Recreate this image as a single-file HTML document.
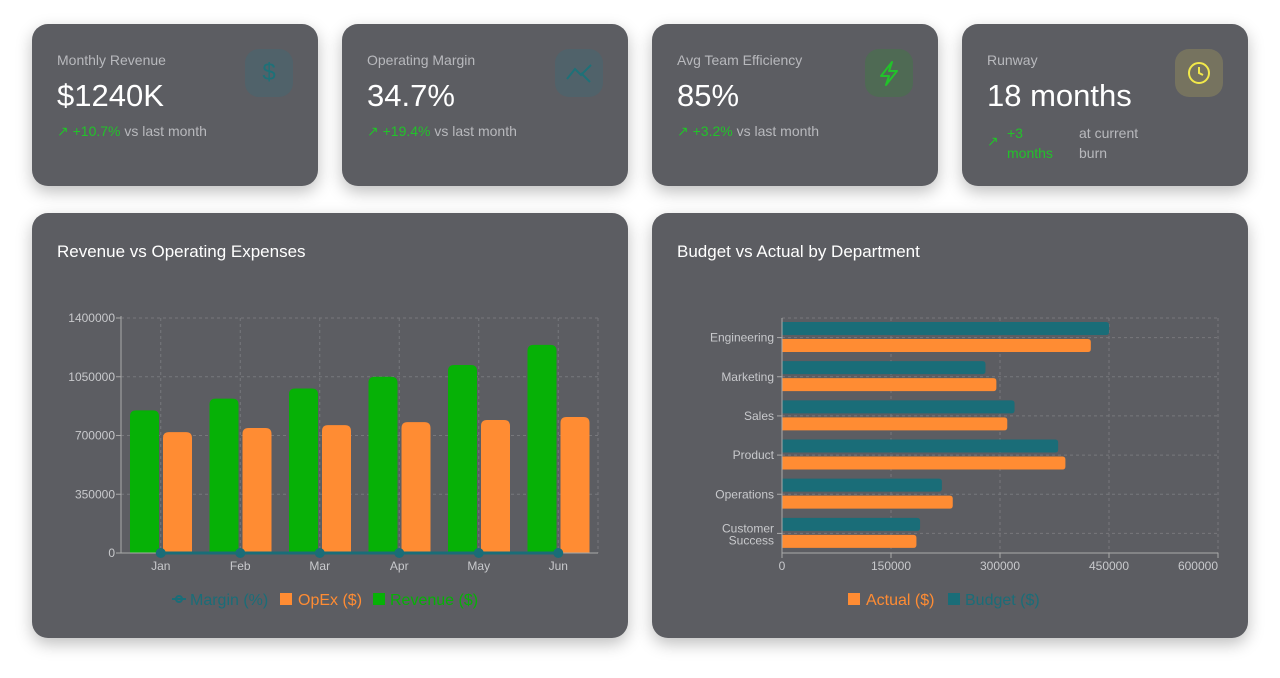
<!DOCTYPE html>
<html><head><meta charset="utf-8">
<style>
body{margin:0;width:1280px;height:678px;background:#fff;font-family:"Liberation Sans",sans-serif;position:relative;overflow:hidden}
.card{position:absolute;background:#5c5d62;border-radius:16px;box-shadow:0 6px 16px rgba(0,0,0,0.25)}
.kpi{top:24px;width:286px;height:162px}
.lbl{position:absolute;left:25px;top:28px;font-size:14px;color:#b8b9bd}
.val{position:absolute;left:25px;top:54px;font-size:31px;color:#fff}
.chg{position:absolute;left:25px;top:99px;font-size:14px;color:#b8b9bd}
.chg .g{color:#22c22a}
.ico{position:absolute;left:213px;top:25px;width:48px;height:48px;border-radius:14px}
.ttl{position:absolute;left:25px;top:29px;font-size:17px;color:#fff}
svg text{font-family:"Liberation Sans",sans-serif}
</style></head><body>
<div class="card kpi" style="left:32px">
 <div class="lbl">Monthly Revenue</div>
 <div class="val">$1240K</div>
 <div class="chg"><span class="g">↗ +10.7%</span> vs last month</div>
 <div class="ico" style="background:#50626a;color:#1e7178;font-size:24px;text-align:center;line-height:48px">$</div>
</div>
<div class="card kpi" style="left:342px">
 <div class="lbl">Operating Margin</div>
 <div class="val">34.7%</div>
 <div class="chg"><span class="g">↗ +19.4%</span> vs last month</div>
 <div class="ico" style="background:#50626a"><svg width="48" height="48"><polyline points="12,30 20,20 26,26 36,16" fill="none" stroke="#1e7178" stroke-width="2"/><polyline points="26,24 35,33" fill="none" stroke="#1e7178" stroke-width="2"/></svg></div>
</div>
<div class="card kpi" style="left:652px">
 <div class="lbl">Avg Team Efficiency</div>
 <div class="val">85%</div>
 <div class="chg"><span class="g">↗ +3.2%</span> vs last month</div>
 <div class="ico" style="background:#4f6a54"><svg width="48" height="48"><polygon points="27,13 16,27 24,27 21,36 32,22 24,22" fill="none" stroke="#22c22a" stroke-width="2" stroke-linejoin="round"/></svg></div>
</div>
<div class="card kpi" style="left:962px">
 <div class="lbl">Runway</div>
 <div class="val">18 months</div>
 <div class="chg" style="width:180px"><span class="g" style="position:absolute;left:0;top:10px">↗</span><span class="g" style="position:absolute;left:20px;top:0;line-height:20px">+3<br>months</span><span style="position:absolute;left:92px;top:0;line-height:20px;width:90px">at current<br>burn</span></div>
 <div class="ico" style="background:#76735f"><svg width="48" height="48"><circle cx="24" cy="24" r="10" fill="none" stroke="#f2e94a" stroke-width="2"/><polyline points="24,18 24,24 28,26" fill="none" stroke="#f2e94a" stroke-width="2"/></svg></div>
</div>

<div class="card" style="left:32px;top:213px;width:596px;height:425px">
 <div class="ttl">Revenue vs Operating Expenses</div>
 <svg id="c1" width="596" height="425" style="position:absolute;left:0;top:0"></svg>
</div>
<div class="card" style="left:652px;top:213px;width:596px;height:425px">
 <div class="ttl">Budget vs Actual by Department</div>
 <svg id="c2" width="596" height="425" style="position:absolute;left:0;top:0"></svg>
</div>
<script>
const months=["Jan","Feb","Mar","Apr","May","Jun"];
const revenue=[850000,920000,980000,1050000,1120000,1240000];
const opex=[720000,745000,762000,780000,792000,810000];
const margin=[15.0,19.4,22.0,26.0,30.0,34.7];
const yTicks=[0,350000,700000,1050000,1400000];
const depts=["Engineering","Marketing","Sales","Product","Operations","Customer Success"];
const budget=[450000,280000,320000,380000,220000,190000];
const actual=[425000,295000,310000,390000,235000,185000];
const xTicks=[0,150000,300000,450000,600000];
const NS="http://www.w3.org/2000/svg";
function mk(svg,tag,at,txt){const e=document.createElementNS(NS,tag);for(const k in at)e.setAttribute(k,at[k]);if(txt!==undefined)e.textContent=txt;svg.appendChild(e);return e;}
function topRound(x,y,w,h,r){r=Math.min(r,h);return `M${x},${y+h}V${y+r}Q${x},${y} ${x+r},${y}H${x+w-r}Q${x+w},${y} ${x+w},${y+r}V${y+h}Z`;}
function rightRound(x,y,w,h,r){r=Math.min(r,w);return `M${x},${y}H${x+w-r}Q${x+w},${y} ${x+w},${y+r}V${y+h-r}Q${x+w},${y+h} ${x+w-r},${y+h}H${x}Z`;}
// chart 1
(function(){
const s=document.getElementById('c1');
const L=89,R=566,T=105,B=340;
const y=v=>B-(v/1400000)*(B-T);
const band=(R-L)/months.length;
const x=i=>L+band*i;
yTicks.forEach(t=>{
 if(t>0){const g=mk(s,'line',{x1:L,x2:R,y1:y(t),y2:y(t),stroke:'#77787c','stroke-dasharray':'3 3'});}
 const lb=mk(s,'text',{x:L-6,y:y(t)+4,'text-anchor':'end','font-size':12,fill:'#c8c9cc'},t);
 
 mk(s,'line',{x1:L-5,x2:L,y1:y(t),y2:y(t),stroke:'#aaa'});
});
months.forEach((m,i)=>{
 const g=mk(s,'line',{x1:x(i)+band/2,x2:x(i)+band/2,y1:T,y2:B,stroke:'#77787c','stroke-dasharray':'3 3'});
 
});
mk(s,'line',{x1:R,x2:R,y1:T,y2:B,stroke:'#77787c','stroke-dasharray':'3 3'});
mk(s,'line',{x1:L,x2:R,y1:T,y2:T,stroke:'#77787c','stroke-dasharray':'3 3'});
months.forEach((m,i)=>{
 const bw=29,x0=x(i)+9;
 const r=mk(s,'path',{d:topRound(x0,y(revenue[i]),bw,B-y(revenue[i]),6),fill:'#06b106'});
 
 const o=mk(s,'path',{d:topRound(x0+bw+4,y(opex[i]),bw,B-y(opex[i]),6),fill:'#ff8c33'});
 
 const t=mk(s,'text',{x:x(i)+band/2,y:B+17,'text-anchor':'middle','font-size':12,fill:'#c8c9cc'},m);
 
});
mk(s,'line',{x1:L,x2:L,y1:T-2,y2:B,stroke:'#aaa'});
mk(s,'line',{x1:L,x2:R,y1:B,y2:B,stroke:'#aaa'});
const pts=margin.map((v,i)=>[x(i)+band/2,y(v)]);
const ln=mk(s,'polyline',{points:pts.map(p=>p.join(',')).join(' '),fill:'none',stroke:'#1a6d78','stroke-width':3});

pts.forEach(p=>{const c=mk(s,'circle',{cx:p[0],cy:p[1],r:5,fill:'#1a6d78'});});
const ly=386;
const lg=mk(s,'g',{});
mk(lg,'line',{x1:140,x2:154,y1:ly,y2:ly,stroke:'#1a6d78','stroke-width':2});
mk(lg,'circle',{cx:147,cy:ly,r:3,fill:'none',stroke:'#1a6d78','stroke-width':2});
mk(lg,'text',{x:158,y:ly+6,'font-size':16,fill:'#1a6d78'},'Margin (%)');
mk(lg,'rect',{x:248,y:ly-6,width:12,height:12,fill:'#ff8c33'});
mk(lg,'text',{x:266,y:ly+6,'font-size':16,fill:'#ff8c33'},'OpEx ($)');
mk(lg,'rect',{x:341,y:ly-6,width:12,height:12,fill:'#06b106'});
mk(lg,'text',{x:358,y:ly+6,'font-size':16,fill:'#06b106'},'Revenue ($)');
})();
// chart 2
(function(){
const s=document.getElementById('c2');
const L=130,R=566,T=105,B=340;
const x=v=>L+(v/600000)*(R-L);
const band=(B-T)/depts.length;
const y=i=>T+band*i;
xTicks.forEach((t,k)=>{
 if(t>0){const g=mk(s,'line',{x1:x(t),x2:x(t),y1:T,y2:B,stroke:'#77787c','stroke-dasharray':'3 3'});}
 mk(s,'line',{x1:x(t),x2:x(t),y1:B,y2:B+5,stroke:'#aaa'});
 const last=k===xTicks.length-1;
 const lb=mk(s,'text',{x:last?x(t):x(t),y:B+17,'text-anchor':last?'end':'middle','font-size':12,fill:'#c8c9cc'},t);
 
});
mk(s,'line',{x1:L,x2:R,y1:T,y2:T,stroke:'#77787c','stroke-dasharray':'3 3'});
depts.forEach((d,i)=>{
 const cy=y(i)+band/2;
 const g=mk(s,'line',{x1:L,x2:R,y1:cy,y2:cy,stroke:'#77787c','stroke-dasharray':'3 3'});
 
 mk(s,'line',{x1:L-5,x2:L,y1:cy,y2:cy,stroke:'#aaa'});
 const bh=13;
 const b=mk(s,'path',{d:rightRound(L,y(i)+4,x(budget[i])-L,bh,3),fill:'#1a6d78'});
 
 const a=mk(s,'path',{d:rightRound(L,y(i)+4+bh+4,x(actual[i])-L,bh,3),fill:'#ff8c33'});
 
 const parts=d.split(' ');
 if(parts.length>1){
  const t=mk(s,'text',{'text-anchor':'end','font-size':12,fill:'#c8c9cc'});
  
  parts.forEach((p,k)=>mk(t,'tspan',{x:L-8,y:cy-1+k*12},p));
 } else {
  const t=mk(s,'text',{x:L-8,y:cy+4,'text-anchor':'end','font-size':12,fill:'#c8c9cc'},d);
  
 }
});
mk(s,'line',{x1:L,x2:L,y1:T,y2:B,stroke:'#aaa'});
mk(s,'line',{x1:L,x2:R,y1:B,y2:B,stroke:'#aaa'});
const ly=386;
const lg=mk(s,'g',{});
mk(lg,'rect',{x:196,y:ly-6,width:12,height:12,fill:'#ff8c33'});
mk(lg,'text',{x:214,y:ly+6,'font-size':16,fill:'#ff8c33'},'Actual ($)');
mk(lg,'rect',{x:296,y:ly-6,width:12,height:12,fill:'#1a6d78'});
mk(lg,'text',{x:313,y:ly+6,'font-size':16,fill:'#1a6d78'},'Budget ($)');
})();
</script>
</body></html>
